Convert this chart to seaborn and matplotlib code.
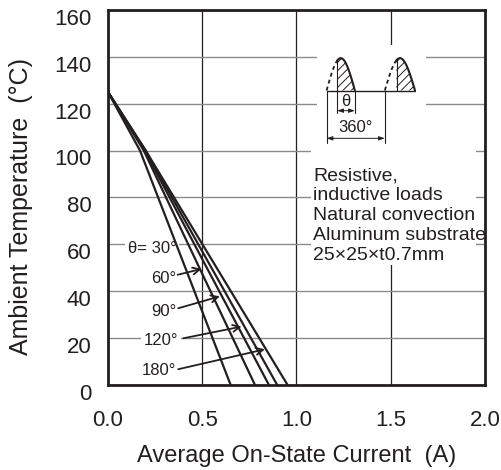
import matplotlib
matplotlib.use('Agg')
import matplotlib.pyplot as plt
import matplotlib.transforms as mtransforms
from matplotlib.patches import Rectangle
from matplotlib.ticker import FormatStrFormatter
import numpy as np
import pandas as pd
import seaborn as sns

# derating curves: start at Ta=125, knee, then straight to the x axis
angles = ['30°', '60°', '90°', '120°', '180°']
start_t = [125, 125, 125, 125, 125]
knee_i = [0.17, 0.19, 0.195, 0.20, 0.20]
knee_t = [100, 100, 100, 100, 100]
zero_i = [0.651, 0.780, 0.854, 0.898, 0.953]

# curve labels and pointer arrows
label_text = ['θ= 30°', '60°', '90°', '120°', '180°']
label_x = [0.364, 0.364, 0.364, 0.371, 0.364]
label_y = [58.4, 45.6, 31.3, 18.9, 6.1]
arrow_tail_x = [0.37, 0.373, 0.40, 0.373]
arrow_tail_y = [47.0, 32.7, 19.9, 6.7]
arrow_tip_x = [0.497, 0.594, 0.709, 0.833]
arrow_tip_y = [49.5, 37.8, 24.9, 15.2]

note_lines = ['Resistive,', 'inductive loads', 'Natural convection',
              'Aluminum substrate', '25×25×t0.7mm']
note_y = [87.2, 78.9, 70.4, 61.9, 53.3]

x_ticks = [0.0, 0.5, 1.0, 1.5, 2.0]
y_ticks = [0, 20, 40, 60, 80, 100, 120, 140, 160]

rows = []
for a, t0, ki, kt, zi in zip(angles, start_t, knee_i, knee_t, zero_i):
    for i, t in [(0.0, t0), (ki, kt), (zi, 0)]:
        rows.append({'current': i, 'temp': t, 'angle': a})
df = pd.DataFrame(rows)

sns.set_style('white')
plt.rcParams['font.family'] = ['Liberation Sans', 'DejaVu Sans']
plt.rcParams['hatch.linewidth'] = 0.7
ink = '#231f20'

fig = plt.figure(figsize=(5.02, 4.70), dpi=100)
ax = fig.add_axes([0.215, 0.181, 0.751, 0.798])

sns.lineplot(data=df, x='current', y='temp', hue='angle', palette=[ink] * 5,
             estimator=None, sort=False, legend=False, lw=1.6, ax=ax, zorder=5)

ax.set_xlim(0, 2.0)
ax.set_ylim(0, 160)
ax.set_xticks(x_ticks)
ax.set_yticks(y_ticks)
ax.xaxis.set_major_formatter(FormatStrFormatter('%.1f'))
ax.set_axisbelow(True)
ax.xaxis.grid(True, color=ink, lw=0.9)
ax.yaxis.grid(True, color='#8a8a8a', lw=1.0)
ax.tick_params(axis='both', length=0, labelsize=16, colors=ink)
ax.tick_params(axis='x', pad=18)
ax.tick_params(axis='y', pad=12)
shift = mtransforms.ScaledTranslation(0, -5 / 72, fig.dpi_scale_trans)
for lab in ax.get_yticklabels():
    lab.set_transform(lab.get_transform() + shift)
for s in ax.spines.values():
    s.set_linewidth(2)
    s.set_color(ink)
    s.set_zorder(6)

ax.set_xlabel('Average On-State Current  (A)', fontsize=17, color=ink, labelpad=10)
ax.set_ylabel('Ambient Temperature  (°C)', fontsize=18, color=ink)
ax.yaxis.set_label_coords(-0.2, 0.475)

# curve labels
for txt, x, y in zip(label_text, label_x, label_y):
    ax.text(x, y, txt, ha='right', va='center', fontsize=12, color=ink, zorder=3,
            bbox=dict(facecolor='white', edgecolor='none', pad=2))
for tx, ty, hx, hy in zip(arrow_tail_x, arrow_tail_y, arrow_tip_x, arrow_tip_y):
    ax.annotate('', xy=(hx, hy), xytext=(tx, ty), zorder=5,
                arrowprops=dict(arrowstyle='->,head_length=0.5,head_width=0.25',
                                color=ink, lw=1.3, shrinkA=0, shrinkB=0))

# white areas behind the inset and the notes
ax.add_patch(Rectangle((1.107, 97), 0.583, 48, facecolor='white', edgecolor='none', zorder=1))
ax.add_patch(Rectangle((1.075, 51), 0.88, 51, facecolor='white', edgecolor='none', zorder=1))

for line, y in zip(note_lines, note_y):
    ax.text(1.089, y, line, ha='left', va='baseline', fontsize=14, color=ink, zorder=3)

# waveform inset
base, height = 125.6, 13.8
for a, s, b in [(1.160, 1.216, 1.310), (1.469, 1.531, 1.629)]:
    xs = np.linspace(a, b, 80)
    ys = base + height * np.sin(np.pi * (xs - a) / (b - a))
    m = xs <= s
    ax.plot(xs[m], ys[m], color=ink, lw=1.3, ls=(0, (2.2, 1.8)), zorder=4)
    on = xs >= s - 0.002
    ax.plot(xs[on], ys[on], color=ink, lw=1.5, zorder=4)
    ax.fill_between(xs[on], base, ys[on], facecolor='white', edgecolor=ink,
                    hatch='////', lw=0, zorder=3)
    ax.plot([s, s], [base, base + height * np.sin(np.pi * (s - a) / (b - a))],
            color=ink, lw=0.8, zorder=4)
ax.plot([1.160, 1.629], [base, base], color=ink, lw=1.0, zorder=4)
for x, y0 in [(1.160, 103.1), (1.469, 103.1), (1.216, 115.8), (1.310, 115.8)]:
    ax.plot([x, x], [base, y0], color=ink, lw=0.8, zorder=4)
dim = dict(arrowstyle='<|-|>,head_length=0.35,head_width=0.12', color=ink,
           lw=0.7, shrinkA=0, shrinkB=0)
ax.annotate('', xy=(1.216, 117.0), xytext=(1.310, 117.0), arrowprops=dim, zorder=4)
ax.annotate('', xy=(1.160, 105.2), xytext=(1.469, 105.2), arrowprops=dim, zorder=4)
ax.text(1.263, 121.0, 'θ', ha='center', va='center', fontsize=12, color=ink, zorder=4)
ax.text(1.315, 110.0, '360°', ha='center', va='center', fontsize=12, color=ink, zorder=4)

fig.savefig('out.png', dpi=100)
